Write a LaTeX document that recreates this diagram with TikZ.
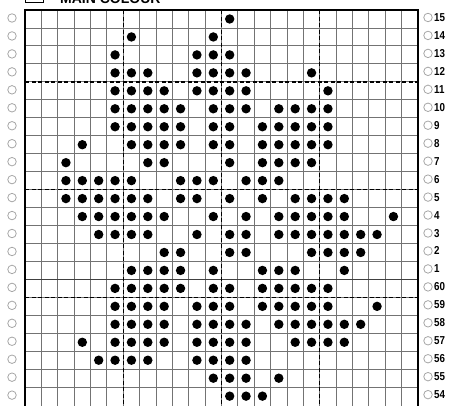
\documentclass[tikz,border=0pt]{standalone}
\usepackage{fontspec}
\setmainfont{Liberation Sans}
\newfontfamily\numfont{Liberation Sans}[FakeStretch=0.85]
\begin{document}
\begin{tikzpicture}[x=1pt,y=-1pt,
  gridline/.style={black!55,line width=0.9pt},
  border/.style={black,line width=1.3pt},
  dashline/.style={black,line width=1.4pt,dash pattern=on 4pt off 2.5pt},
  repeatline/.style={black!75,line width=1.2pt},
  ring/.style={circle,draw=black!35,line width=0.8pt,inner sep=0pt,minimum size=8.5pt},
  numlab/.style={anchor=west,inner sep=0pt,text depth=0pt,font=\numfont\bfseries\fontsize{11.5}{11.5}\selectfont},
  stitch/.style={black}]
\useasboundingbox (0,0) rectangle (454,405);
\def\cw{16.375}
\def\rh{17.96}
% key box and title (cut by the top edge, as in the reference)
\node[draw,line width=1pt,minimum width=18pt,minimum height=14pt,inner sep=0pt,anchor=south west] (key) at (25,3) {};
\node[anchor=base west,inner sep=0pt,font=\bfseries\fontsize{14}{14}\selectfont] (title) at (60,3) {MAIN COLOUR};
% grid
\foreach \i in {1,...,23} \draw[gridline] ({25+\i*\cw},10) -- ({25+\i*\cw},410);
\foreach \j in {1,...,21} \draw[gridline] (25,{10+\j*\rh}) -- (418,{10+\j*\rh});
\draw[repeatline] (25,{10+15*\rh}) -- (418,{10+15*\rh});
\foreach \i in {6,12,18} \draw[dashline] ({25+\i*\cw},10) -- ({25+\i*\cw},410);
\foreach \j in {4,10,16} \draw[dashline] (25,{10+\j*\rh}) -- (418,{10+\j*\rh});
\draw[border] (25,410) -- (25,10) -- (418,10) -- (418,410);
% stitches
\foreach \r/\cols in {
  1/{13},
  2/{7,12},
  3/{6,11,12,13},
  4/{6,7,8,11,12,13,14,18},
  5/{6,7,8,9,11,12,13,14,19},
  6/{6,7,8,9,10,12,13,14,16,17,18,19},
  7/{6,7,8,9,10,12,13,15,16,17,18,19},
  8/{4,7,8,9,10,12,13,15,16,17,18,19},
  9/{3,8,9,13,15,16,17,18},
  10/{3,4,5,6,7,10,11,12,14,15,16},
  11/{3,4,5,6,7,8,10,11,13,15,17,18,19,20},
  12/{4,5,6,7,8,9,12,14,16,17,18,19,20,23},
  13/{5,6,7,8,11,13,14,16,17,18,19,20,21,22},
  14/{9,10,13,14,18,19,20,21},
  15/{7,8,9,10,12,15,16,17,20},
  16/{6,7,8,9,10,12,13,15,16,17,18,19},
  17/{6,7,8,9,11,12,13,15,16,17,18,19,22},
  18/{6,7,8,9,11,12,13,14,16,17,18,19,20,21},
  19/{4,6,7,8,9,11,12,13,14,17,18,19,20},
  20/{5,6,7,8,11,12,13,14},
  21/{12,13,14,16},
  22/{13,14,15}}
  {\foreach \c in \cols \fill[stitch] ({25+(\c-0.5)*\cw},{10+(\r-0.5)*\rh}) circle (4.7);}
% row rings and numbers
\foreach \r/\lab in {1/15,2/14,3/13,4/12,5/11,6/10,7/9,8/8,9/7,10/6,11/5,12/4,13/3,14/2,15/1,16/60,17/59,18/58,19/57,20/56,21/55,22/54}{
  \node[ring] (L\r) at (12,{10+(\r-0.5)*\rh-1}) {};
  \node[ring] (R\r) at (428,{10+(\r-0.5)*\rh-1.5}) {};
  \node[numlab] (N\r) at (434,{10+(\r-0.5)*\rh-1.5}) {\lab};
}
\end{tikzpicture}
\end{document}
